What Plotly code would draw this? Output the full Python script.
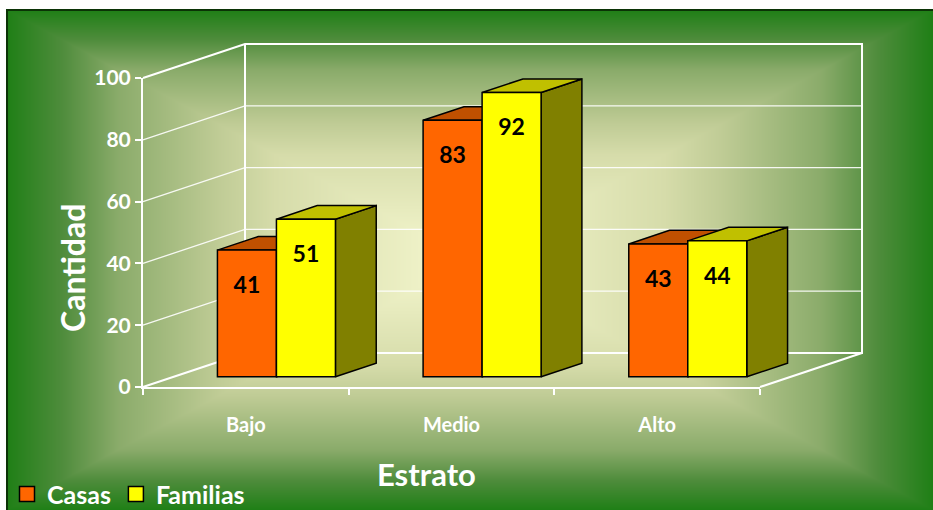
import base64
import struct
import zlib

import numpy as np
import plotly.graph_objects as go

# ---- data ----
categories = ["Bajo", "Medio", "Alto"]
casas = [41, 83, 43]
familias = [51, 92, 44]
y_ticks = [0, 20, 40, 60, 80, 100]

# ---- layout geometry (pixels of the 933x510 page) ----
W, H = 933, 510
AX_L, AX_R = 143, 760      # front floor edge (x axis line)
AX_B, AX_T = 387, 78       # value 0 and value 100 on the front axis
ux = 3 / (AX_R - AX_L)     # category units per pixel
uy = 100 / (AX_B - AX_T)   # value units per pixel
DEPTH_X = 102 * ux         # oblique depth of the chart box
DEPTH_Y = 34 * uy
BAR_FRONT, BAR_BACK = 0.3, 0.7   # bar front / back planes as a fraction of depth
BAR_W = 59 * ux

FONT = "Lato"
WHITE = "#ffffff"
EDGE = "#000000"


# ---- background: rectangular gradient from centre, written as a PNG ----
def png_uri(rgb):
    h, w, _ = rgb.shape
    raw = b"".join(b"\x00" + rgb[r].tobytes() for r in range(h))

    def chunk(tag, data):
        c = struct.pack(">I", len(data)) + tag + data
        return c + struct.pack(">I", zlib.crc32(tag + data) & 0xFFFFFFFF)

    png = (b"\x89PNG\r\n\x1a\n"
           + chunk(b"IHDR", struct.pack(">IIBBBBB", w, h, 8, 2, 0, 0, 0))
           + chunk(b"IDAT", zlib.compress(raw, 9))
           + chunk(b"IEND", b""))
    return "data:image/png;base64," + base64.b64encode(png).decode()


BG_X0, BG_Y0 = 7, 10
bw, bh = W - BG_X0, H - BG_Y0
cx, cy = 470, 260
px = np.arange(BG_X0, W) + 0.5
py = np.arange(BG_Y0, H) + 0.5
tx = np.abs(px - cx) / (cx - BG_X0)
ty = np.abs(py - cy) / (H - cy)
t = np.clip(np.maximum(tx[None, :], ty[:, None]), 0, 1)
stops = [0.0, 0.42, 0.54, 0.76, 0.88, 1.0]
ramp = [(246, 248, 208), (214, 220, 170), (192, 204, 150),
        (138, 171, 106), (79, 140, 60), (31, 127, 22)]
img = np.zeros((bh, bw, 3), dtype=np.uint8)
for ch in range(3):
    img[..., ch] = np.round(np.interp(t, stops, [c[ch] for c in ramp])).astype(np.uint8)
bg_uri = png_uri(img)

fig = go.Figure()

# ---- chart box: back wall, side wall and floor lines ----
xl, xr = -0.5, 2.5
wall_x, wall_y = [], []
for v in y_ticks[1:-1]:
    wall_x += [xl, xl + DEPTH_X, xr + DEPTH_X, None]
    wall_y += [v, v + DEPTH_Y, v + DEPTH_Y, None]
fig.add_trace(go.Scatter(x=wall_x, y=wall_y, mode="lines",
                         line=dict(color="rgba(255,255,255,0.9)", width=1.3),
                         hoverinfo="skip", showlegend=False))
top = y_ticks[-1]
frame_x = [xl, xl + DEPTH_X, xr + DEPTH_X, xr + DEPTH_X, xl + DEPTH_X, xl + DEPTH_X, None,
           xl, xl + DEPTH_X, None, xr, xr + DEPTH_X]
frame_y = [top, top + DEPTH_Y, top + DEPTH_Y, DEPTH_Y, DEPTH_Y, top + DEPTH_Y, None,
           0, DEPTH_Y, None, 0, DEPTH_Y]
fig.add_trace(go.Scatter(x=frame_x, y=frame_y, mode="lines",
                         line=dict(color=WHITE, width=2),
                         hoverinfo="skip", showlegend=False))

# ---- 3D bars: top and side faces ----
series = [
    ("Casas", casas, -1, "#ff6600", "#c05000", "#803c00"),
    ("Familias", familias, 0, "#ffff00", "#c0c000", "#808000"),
]
fx = BAR_FRONT * DEPTH_X
fy = BAR_FRONT * DEPTH_Y
dx = (BAR_BACK - BAR_FRONT) * DEPTH_X
dy = (BAR_BACK - BAR_FRONT) * DEPTH_Y
for name, vals, side, front_c, top_c, side_c in series:
    for i, v in enumerate(vals):
        x0 = i + fx + side * BAR_W
        x1 = x0 + BAR_W
        b, tp = fy, fy + v
        fig.add_trace(go.Scatter(
            x=[x1, x1, x1 + dx, x1 + dx, x1], y=[b, tp, tp + dy, b + dy, b],
            fill="toself", fillcolor=side_c, mode="lines",
            line=dict(color=EDGE, width=1.5), hoverinfo="skip", showlegend=False))
        fig.add_trace(go.Scatter(
            x=[x0, x1, x1 + dx, x0 + dx, x0], y=[tp, tp, tp + dy, tp + dy, tp],
            fill="toself", fillcolor=top_c, mode="lines",
            line=dict(color=EDGE, width=1.5), hoverinfo="skip", showlegend=False))

# ---- bar front faces on the front axes ----
for name, vals, side, front_c, top_c, side_c in series:
    xs = [i + fx + side * BAR_W + BAR_W / 2 for i in range(len(vals))]
    fig.add_trace(go.Bar(
        x=xs, y=vals, base=fy, width=BAR_W, xaxis="x2", yaxis="y2",
        marker=dict(color=front_c, line=dict(color=EDGE, width=1.5)),
        showlegend=False, hoverinfo="skip"))
    fig.add_trace(go.Scatter(
        x=xs, y=[fy + v - 12 for v in vals], xaxis="x2", yaxis="y2",
        mode="text", text=[str(v) for v in vals], cliponaxis=False,
        textfont=dict(family=FONT, size=23, color="#000000", weight="bold"),
        showlegend=False, hoverinfo="skip"))

# ---- legend entries ----
for name, vals, side, front_c, top_c, side_c in series:
    fig.add_trace(go.Scatter(
        x=[None], y=[None], mode="markers", name=name,
        marker=dict(symbol="square", size=15, color=front_c,
                    line=dict(color=EDGE, width=1.5))))

full_x = [-0.5 - AX_L * ux, -0.5 + (W - AX_L) * ux]
full_y = [-(H - AX_B) * uy, AX_B * uy]

fig.update_layout(
    width=W, height=H,
    margin=dict(l=0, r=0, t=0, b=0, pad=0, autoexpand=False),
    paper_bgcolor=WHITE,
    plot_bgcolor="rgba(0,0,0,0)",
    barmode="overlay",
    font=dict(family=FONT, color=WHITE),
    xaxis=dict(domain=[0, 1], range=full_x, visible=False, fixedrange=True),
    yaxis=dict(domain=[0, 1], range=full_y, visible=False, fixedrange=True),
    xaxis2=dict(domain=[AX_L / W, AX_R / W], range=[-0.5, 2.5], anchor="y2",
                showline=True, linecolor=WHITE, linewidth=2, showgrid=False,
                zeroline=False, tickmode="array", tickvals=[0, 1, 2],
                ticktext=categories, ticks="", ticklabelstandoff=19,
                tickfont=dict(family=FONT, size=20, color=WHITE, weight="bold"),
                minor=dict(tickmode="array", tickvals=[-0.5, 0.5, 1.5, 2.5],
                           ticks="outside", ticklen=6, tickwidth=1.5,
                           tickcolor=WHITE, showgrid=False),
                fixedrange=True),
    yaxis2=dict(domain=[(H - AX_B) / H, (H - AX_T) / H], range=[0, 100],
                anchor="x2", showline=True, linecolor=WHITE, linewidth=2,
                showgrid=False, zeroline=False, tickmode="array",
                tickvals=y_ticks, ticks="outside", ticklen=6, tickwidth=1.5,
                tickcolor=WHITE,
                tickfont=dict(family=FONT, size=21, color=WHITE, weight="bold"),
                fixedrange=True),
    images=[dict(source=bg_uri, xref="paper", yref="paper",
                 x=BG_X0 / W, y=1 - BG_Y0 / H, sizex=bw / W, sizey=bh / H,
                 xanchor="left", yanchor="top", sizing="stretch", layer="below")],
    shapes=[dict(type="rect", xref="paper", yref="paper",
                 x0=BG_X0 / W, x1=1.01, y0=-0.01, y1=1 - BG_Y0 / H,
                 line=dict(color="#0b3306", width=2), layer="above")],
    annotations=[
        dict(text="Cantidad", x=72 / W, y=1 - 268 / H, xref="paper", yref="paper",
             xanchor="center", yanchor="middle", textangle=-90, showarrow=False,
             font=dict(family=FONT, size=32, color=WHITE, weight="bold")),
        dict(text="Estrato", x=426 / W, y=1 - 474 / H, xref="paper", yref="paper",
             xanchor="center", yanchor="middle", showarrow=False,
             font=dict(family=FONT, size=31, color=WHITE, weight="bold")),
    ],
    legend=dict(orientation="h", x=7 / W, y=-0.014, xanchor="left", yanchor="bottom",
                bgcolor="rgba(0,0,0,0)", borderwidth=0, itemclick=False,
                itemdoubleclick=False, tracegroupgap=0,
                font=dict(family=FONT, size=25, color=WHITE, weight="bold")),
)

fig.write_html("out.html", config={"displayModeBar": False})
